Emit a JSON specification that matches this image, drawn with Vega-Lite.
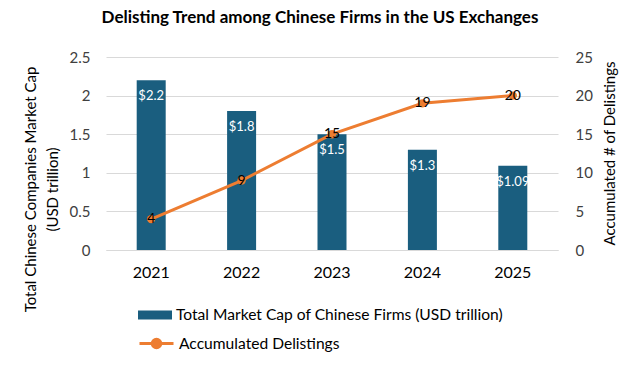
{
  "$schema": "https://vega.github.io/schema/vega-lite/v6.json",
  "width": 452,
  "height": 193,
  "autosize": "none",
  "padding": {"left": 106, "top": 57, "right": 82, "bottom": 119},
  "background": "white",
  "title": {
    "text": "Delisting Trend among Chinese Firms in the US Exchanges",
    "font": "Lato",
    "fontSize": 17,
    "fontWeight": "bold",
    "color": "#000000",
    "anchor": "middle",
    "offset": 23,
    "dx": -12
  },
  "config": {
    "font": "Lato",
    "view": {"stroke": null},
    "axis": {"labelFont": "Lato", "titleFont": "Lato", "titleFontWeight": "normal", "labelColor": "#404040", "titleColor": "#000000", "labelOverlap": false}
  },
  "data": {
    "values": [
      {"year": "2021", "cap": 2.2, "capLabel": "$2.2", "delist": 4, "s1": "Total Market Cap of Chinese Firms (USD trillion)", "s2": "Accumulated Delistings"},
      {"year": "2022", "cap": 1.8, "capLabel": "$1.8", "delist": 9, "s1": "Total Market Cap of Chinese Firms (USD trillion)", "s2": "Accumulated Delistings"},
      {"year": "2023", "cap": 1.5, "capLabel": "$1.5", "delist": 15, "s1": "Total Market Cap of Chinese Firms (USD trillion)", "s2": "Accumulated Delistings"},
      {"year": "2024", "cap": 1.3, "capLabel": "$1.3", "delist": 19, "s1": "Total Market Cap of Chinese Firms (USD trillion)", "s2": "Accumulated Delistings"},
      {"year": "2025", "cap": 1.09, "capLabel": "$1.09", "delist": 20, "s1": "Total Market Cap of Chinese Firms (USD trillion)", "s2": "Accumulated Delistings"}
    ]
  },
  "encoding": {
    "x": {
      "field": "year",
      "type": "nominal",
      "scale": {"paddingInner": 0.2, "paddingOuter": 0.1},
      "axis": {
        "title": null,
        "labelAngle": 0,
        "labelFontSize": 16,
        "labelColor": "#000000",
        "labelPadding": 14,
        "domain": true,
        "domainColor": "#d9d9d9",
        "domainWidth": 1,
        "ticks": false
      }
    }
  },
  "layer": [
    {
      "encoding": {
        "y": {
          "field": "cap",
          "type": "quantitative",
          "scale": {"domain": [0, 2.5]},
          "axis": {
            "orient": "left",
            "values": [0, 0.5, 1, 1.5, 2, 2.5],
            "labelExpr": "datum.value",
            "labelFontSize": 15,
            "labelPadding": 16,
            "labelOverlap": false,
            "ticks": false,
            "domain": false,
            "grid": true,
            "gridColor": "#d9d9d9",
            "gridWidth": 1,
            "title": ["Total Chinese Companies Market Cap", "(USD trillion)"],
            "titleFontSize": 15,
            "titleLineHeight": 22,
            "titleAngle": -90,
            "titleBaseline": "top",
            "titleAlign": "center",
            "titleX": -83,
            "titleY": 132
          }
        }
      },
      "layer": [
        {
          "mark": {"type": "bar", "size": 29},
          "encoding": {
            "fill": {
              "field": "s1",
              "type": "nominal",
              "scale": {"range": ["#1a5e7f"]},
              "legend": {
                "title": null,
                "orient": "none",
                "legendX": 32,
                "legendY": 241,
                "labelFontSize": 15.6,
                "labelColor": "#000000",
                "labelOffset": 4,
                "labelLimit": 500,
                "symbolType": "M-1,-0.27H1V0.27H-1Z",
                "symbolSize": 1156,
                "symbolStrokeWidth": 0
              }
            }
          }
        },
        {
          "mark": {"type": "text", "color": "white", "baseline": "middle", "dy": 16, "fontSize": 13},
          "encoding": {
            "text": {"field": "capLabel"}
          }
        }
      ]
    },
    {
      "encoding": {
        "y": {
          "field": "delist",
          "type": "quantitative",
          "scale": {"domain": [0, 25]},
          "axis": {
            "orient": "right",
            "values": [0, 5, 10, 15, 20, 25],
            "labelFontSize": 15,
            "labelPadding": 17,
            "labelOverlap": false,
            "ticks": false,
            "domain": false,
            "grid": false,
            "title": "Accumulated # of Delistings",
            "titleFontSize": 15,
            "titleAngle": -90,
            "titleBaseline": "middle",
            "titleX": 51,
            "titleY": 96
          }
        }
      },
      "layer": [
        {
          "mark": {"type": "line", "strokeWidth": 3, "color": "#ED7D31"},
          "encoding": {
            "stroke": {
              "field": "s2",
              "type": "nominal",
              "scale": {"range": ["#ED7D31"]},
              "legend": {
                "title": null,
                "orient": "none",
                "legendX": 32,
                "legendY": 268,
                "labelFontSize": 15.6,
                "labelColor": "#000000",
                "labelOffset": 4,
                "labelLimit": 500,
                "symbolType": "M-1,0H-0.25A0.25,0.25 0 1,1 0.25,0A0.25,0.25 0 1,1 -0.25,0M0.25,0H1",
                "symbolSize": 1156,
                "symbolStrokeWidth": 3,
                "symbolFillColor": "#ED7D31"
              }
            }
          }
        },
        {
          "mark": {"type": "point", "filled": true, "size": 70, "color": "#ED7D31", "opacity": 1}
        },
        {
          "mark": {"type": "text", "color": "#000000", "baseline": "middle", "fontSize": 14},
          "encoding": {
            "text": {"field": "delist", "type": "quantitative"}
          }
        }
      ]
    }
  ],
  "resolve": {"scale": {"y": "independent", "fill": "independent", "stroke": "independent"}}
}
